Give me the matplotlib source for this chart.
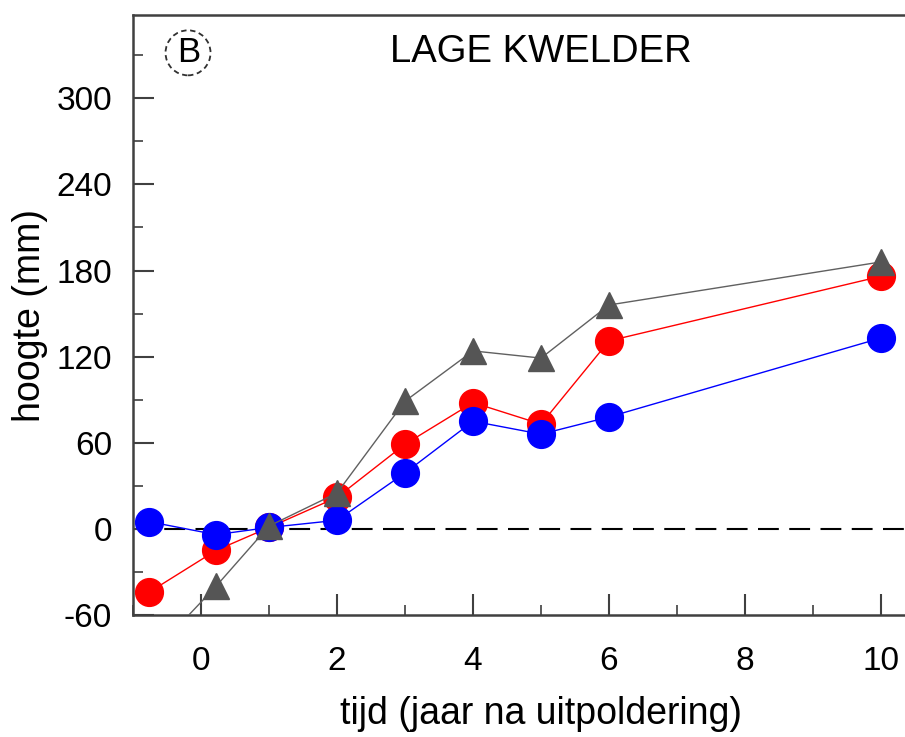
import matplotlib
matplotlib.use("Agg")
import matplotlib.pyplot as plt
from matplotlib.ticker import MultipleLocator
from matplotlib.patches import Ellipse

plt.rcParams['font.family'] = ['Liberation Sans', 'DejaVu Sans']
plt.rcParams['axes.unicode_minus'] = False

# Data
years = [-0.76, 0.22, 1.0, 2.0, 3.0, 4.0, 5.0, 6.0, 10.0]
red_vals = [-44, -15, 1, 22, 59, 88, 73, 131, 176]
blue_vals = [5, -4, 1, 6, 39, 75, 66, 78, 133]
gray_vals = [-89, -40, 2, 25, 89, 124, 119, 156, 186]

title_text = "LAGE KWELDER"
panel_label = "B"
xlabel = "tijd (jaar na uitpoldering)"
ylabel = "hoogte (mm)"

fig = plt.figure(figsize=(9.05, 7.37), dpi=100)
# axes extend slightly past the right edge (the reference is cropped there)
ax = fig.add_axes([0.147, 0.1655, 0.9017, 0.8141])

spine_col = '#404040'
ax.axhline(0, color='black', lw=1.5, dashes=(10, 5), zorder=1)

ax.plot(years, red_vals, color='#ff0000', lw=1.0, marker='o', ms=20,
        mec='#ff0000', mfc='#ff0000', zorder=3)
ax.plot(years, blue_vals, color='#0000ff', lw=1.0, marker='o', ms=20,
        mec='#0000ff', mfc='#0000ff', zorder=4)
ax.plot(years, gray_vals, color='#606060', lw=1.0, marker='^', ms=19,
        mec='#555555', mfc='#555555', zorder=5)

ax.set_xlim(-1.0, 11.0)
ax.set_ylim(-60, 358)

ax.xaxis.set_major_locator(MultipleLocator(2))
ax.xaxis.set_minor_locator(MultipleLocator(1))
ax.yaxis.set_major_locator(MultipleLocator(60))
ax.yaxis.set_minor_locator(MultipleLocator(30))

ax.tick_params(which='both', direction='in', color=spine_col, top=False, right=False)
ax.tick_params(which='major', length=15, width=1.5, labelsize=24)
ax.tick_params(which='minor', length=7.5, width=1.2)
ax.tick_params(axis='x', which='major', pad=22)
ax.tick_params(axis='y', which='major', pad=15)

for side in ['left', 'bottom', 'top', 'right']:
    ax.spines[side].set_color(spine_col)
    ax.spines[side].set_linewidth(1.8)

ax.set_xlabel(xlabel, fontsize=27, labelpad=14)
ax.set_ylabel(ylabel, fontsize=27, labelpad=6)

ax.text(0.5, 0.938, title_text, transform=ax.transAxes, fontsize=27.5,
        ha='center', va='center')

# circled panel label
ax_w_px = 0.9017 * 905
ax_h_px = 0.8141 * 737
ax.add_patch(Ellipse((0.0674, 0.937), 45 / ax_w_px, 45 / ax_h_px,
                     transform=ax.transAxes, fc='none', ec='#303030',
                     lw=1.3, ls=(0, (3, 2)), clip_on=False))
ax.text(0.0685, 0.938, panel_label, transform=ax.transAxes,
        fontsize=25, ha='center', va='center')

fig.savefig('out.png', dpi=100)
